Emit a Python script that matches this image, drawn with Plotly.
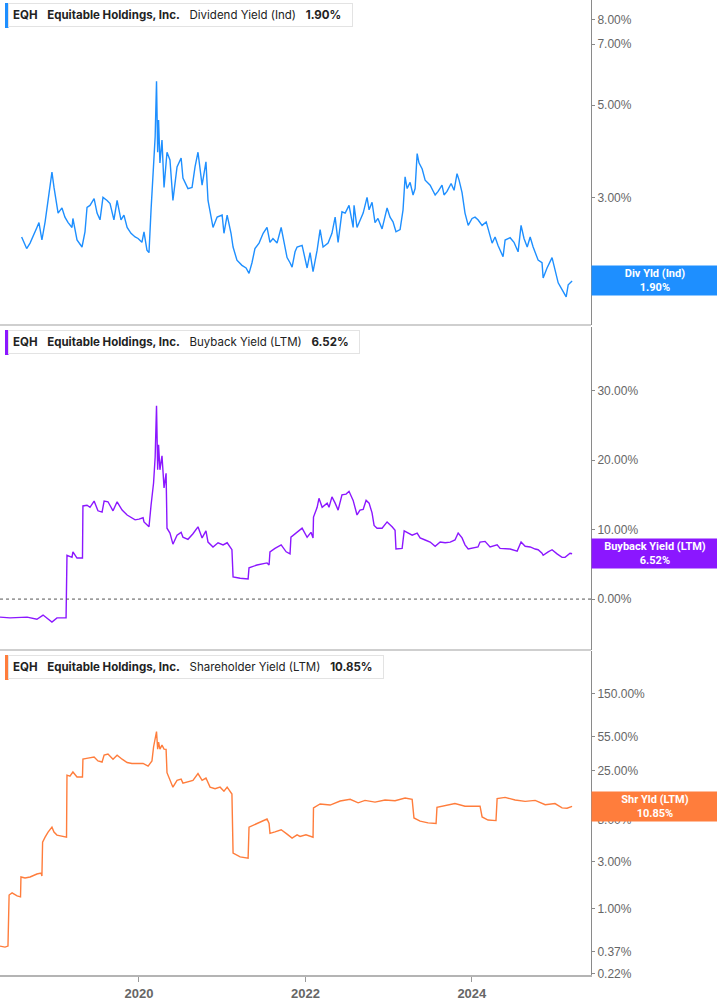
import numpy as np
import plotly.graph_objects as go
from plotly.subplots import make_subplots

TICKER = 'EQH'
COMPANY = 'Equitable Holdings, Inc.'

# Dividend Yield (Ind), %
div_dates = [
    '2018-08-04', '2018-08-26', '2018-09-10', '2018-09-23', '2018-10-10', '2018-10-19', '2018-11-01',
    '2018-11-15', '2018-11-28', '2018-12-15', '2018-12-24', '2019-01-06', '2019-01-11', '2019-01-28',
    '2019-02-10', '2019-02-24', '2019-03-13', '2019-03-17', '2019-04-04', '2019-04-26', '2019-05-09',
    '2019-05-18', '2019-05-31', '2019-06-18', '2019-07-01', '2019-07-14', '2019-07-27', '2019-08-14',
    '2019-08-27', '2019-09-13', '2019-09-27', '2019-10-14', '2019-10-27', '2019-11-10', '2019-11-27',
    '2019-12-15', '2019-12-28', '2020-01-14', '2020-01-23', '2020-02-05', '2020-02-14', '2020-02-23',
    '2020-03-05', '2020-03-12', '2020-03-18', '2020-03-23', '2020-03-27', '2020-04-02', '2020-04-11',
    '2020-04-20', '2020-05-03', '2020-05-16', '2020-05-29', '2020-06-16', '2020-07-04', '2020-07-12',
    '2020-08-03', '2020-08-21', '2020-09-03', '2020-09-16', '2020-10-04', '2020-10-13', '2020-10-21',
    '2020-10-30', '2020-11-08', '2020-11-21', '2020-12-09', '2020-12-31', '2021-01-08', '2021-01-22',
    '2021-02-08', '2021-02-17', '2021-03-06', '2021-03-28', '2021-04-15', '2021-04-28', '2021-05-11',
    '2021-05-24', '2021-06-11', '2021-06-29', '2021-07-16', '2021-07-29', '2021-08-11', '2021-08-29',
    '2021-09-16', '2021-09-24', '2021-10-12', '2021-10-25', '2021-11-03', '2021-11-16', '2021-11-25',
    '2021-12-17', '2022-01-08', '2022-01-21', '2022-02-03', '2022-02-21', '2022-03-06', '2022-03-19',
    '2022-04-10', '2022-04-27', '2022-05-11', '2022-05-24', '2022-06-10', '2022-06-24', '2022-07-11',
    '2022-07-29', '2022-08-02', '2022-08-15', '2022-08-28', '2022-09-11', '2022-09-28', '2022-10-07',
    '2022-10-20', '2022-11-02', '2022-11-15', '2022-12-03', '2022-12-25', '2023-01-07', '2023-01-20',
    '2023-02-02', '2023-02-20', '2023-03-05', '2023-03-14', '2023-03-23', '2023-04-05', '2023-04-18',
    '2023-04-27', '2023-05-06', '2023-05-14', '2023-05-28', '2023-06-10', '2023-07-02', '2023-07-24',
    '2023-08-06', '2023-08-23', '2023-09-01', '2023-09-14', '2023-10-02', '2023-10-15', '2023-10-28',
    '2023-11-06', '2023-11-19', '2023-12-02', '2023-12-16', '2024-01-02', '2024-01-15', '2024-01-28',
    '2024-02-15', '2024-03-04', '2024-03-17', '2024-03-30', '2024-04-12', '2024-04-25', '2024-05-17',
    '2024-05-26', '2024-06-17', '2024-07-04', '2024-07-22', '2024-08-04', '2024-08-17', '2024-08-31',
    '2024-09-13', '2024-09-26', '2024-10-18', '2024-11-04', '2024-11-09', '2024-11-26', '2024-12-18',
    '2024-12-31', '2025-01-14', '2025-01-31', '2025-02-18', '2025-02-27', '2025-03-16',
]
div_values = [
    2.42, 2.27, 2.34, 2.42, 2.55, 2.62, 2.38,
    2.63, 2.96, 3.46, 3.18, 2.85, 2.76, 2.84,
    2.70, 2.62, 2.55, 2.68, 2.38, 2.29, 2.49,
    2.85, 2.88, 2.99, 2.76, 2.66, 3.01, 2.96,
    2.91, 2.66, 2.96, 2.66, 2.73, 2.55, 2.47,
    2.42, 2.40, 2.35, 2.49, 2.25, 2.22, 2.81,
    3.56, 4.20, 5.71, 3.86, 4.61, 3.64, 4.13,
    3.18, 3.86, 3.70, 2.96, 3.56, 3.74, 3.35,
    3.16, 3.18, 3.56, 3.86, 3.22, 3.43, 3.66,
    2.96, 2.78, 2.55, 2.70, 2.73, 2.47, 2.73,
    2.47, 2.29, 2.13, 2.07, 2.04, 1.98, 2.10,
    2.27, 2.34, 2.47, 2.55, 2.35, 2.40, 2.34,
    2.55, 2.41, 2.16, 2.10, 2.05, 2.23, 2.29,
    2.31, 2.04, 2.22, 2.00, 2.25, 2.52, 2.29,
    2.34, 2.47, 2.70, 2.35, 2.78, 2.76, 2.88,
    2.55, 2.88, 2.55, 2.66, 2.76, 3.01, 2.81,
    2.93, 2.62, 2.68, 2.53, 2.84, 2.70, 2.63,
    2.49, 2.52, 2.81, 3.37, 3.16, 3.27, 3.05,
    3.16, 3.83, 3.64, 3.52, 3.31, 3.22, 3.05,
    3.11, 3.22, 3.05, 3.11, 3.25, 3.13, 3.43,
    3.31, 3.09, 2.76, 2.58, 2.68, 2.70, 2.66,
    2.58, 2.63, 2.47, 2.34, 2.42, 2.31, 2.17,
    2.38, 2.41, 2.35, 2.23, 2.58, 2.40, 2.29,
    2.42, 2.29, 2.13, 2.10, 1.93, 2.04, 2.16,
    2.02, 1.88, 1.81, 1.74, 1.86, 1.90,
]

# Buyback Yield (LTM), %
bb_dates = [
    '2018-05-01', '2018-06-14', '2018-08-28', '2018-10-10', '2018-11-06', '2018-11-23', '2018-12-15',
    '2019-01-06', '2019-02-15', '2019-02-19', '2019-03-13', '2019-03-17', '2019-04-04', '2019-04-28',
    '2019-04-30', '2019-05-18', '2019-05-31', '2019-06-18', '2019-07-05', '2019-07-23', '2019-08-01',
    '2019-08-18', '2019-09-09', '2019-09-27', '2019-10-19', '2019-11-10', '2019-11-27', '2019-12-15',
    '2020-01-01', '2020-01-19', '2020-01-23', '2020-02-14', '2020-02-23', '2020-03-05', '2020-03-12',
    '2020-03-18', '2020-03-23', '2020-03-27', '2020-04-02', '2020-04-11', '2020-04-15', '2020-04-20',
    '2020-04-29', '2020-05-03', '2020-05-16', '2020-05-29', '2020-06-16', '2020-07-04', '2020-07-12',
    '2020-08-03', '2020-08-25', '2020-09-16', '2020-10-04', '2020-10-21', '2020-10-30', '2020-11-21',
    '2020-12-13', '2021-01-04', '2021-01-22', '2021-02-12', '2021-02-17', '2021-03-20', '2021-04-24',
    '2021-04-28', '2021-06-02', '2021-07-16', '2021-07-25', '2021-07-29', '2021-08-20', '2021-09-16',
    '2021-10-08', '2021-10-25', '2021-10-29', '2021-11-25', '2021-12-17', '2022-01-08', '2022-01-25',
    '2022-02-03', '2022-02-05', '2022-02-21', '2022-03-01', '2022-03-15', '2022-04-06', '2022-04-14',
    '2022-04-27', '2022-05-11', '2022-05-24', '2022-06-10', '2022-06-28', '2022-07-11', '2022-07-29',
    '2022-08-15', '2022-08-28', '2022-09-11', '2022-09-24', '2022-10-07', '2022-10-20', '2022-10-29',
    '2022-11-11', '2022-12-03', '2022-12-25', '2023-01-16', '2023-01-29', '2023-02-02', '2023-03-01',
    '2023-03-10', '2023-03-27', '2023-04-14', '2023-05-06', '2023-05-19', '2023-06-10', '2023-07-02',
    '2023-07-24', '2023-08-15', '2023-09-06', '2023-09-28', '2023-10-19', '2023-11-02', '2023-11-19',
    '2023-12-02', '2023-12-16', '2024-01-06', '2024-01-28', '2024-02-06', '2024-02-28', '2024-03-21',
    '2024-04-21', '2024-05-04', '2024-05-26', '2024-06-17', '2024-07-18', '2024-08-04', '2024-08-22',
    '2024-09-13', '2024-10-05', '2024-10-18', '2024-11-04', '2024-11-09', '2024-12-01', '2024-12-18',
    '2025-01-09', '2025-01-31', '2025-02-13', '2025-02-22', '2025-03-07', '2025-03-16',
]
bb_values = [
    -2.6, -2.7, -2.6, -2.9, -2.3, -2.7, -3.3,
    -2.7, -2.7, 6.3, 6.0, 6.8, 5.9, 5.9,
    13.4, 13.5, 13.2, 14.1, 12.7, 12.5, 14.1,
    14.0, 12.7, 14.0, 12.8, 12.1, 11.7, 11.4,
    11.5, 11.7, 11.1, 10.4, 13.5, 16.7, 20.4,
    27.8, 18.6, 22.2, 18.6, 20.6, 18.6, 16.0,
    18.1, 10.2, 9.5, 7.9, 9.2, 9.6, 8.9,
    8.6, 9.4, 10.4, 8.8, 9.8, 8.2, 7.5,
    8.1, 7.8, 8.1, 7.1, 3.2, 3.0, 2.9,
    4.5, 4.9, 5.2, 4.9, 6.8, 7.3, 7.8,
    6.8, 6.5, 8.9, 9.6, 10.2, 8.9, 9.6,
    8.8, 11.8, 13.2, 14.5, 13.2, 13.8, 13.2,
    14.7, 13.8, 12.8, 15.0, 15.1, 15.5, 14.2,
    12.1, 12.8, 12.9, 14.2, 13.8, 12.4, 10.6,
    10.2, 10.2, 11.1, 10.4, 9.9, 7.2, 7.3,
    9.8, 9.5, 9.2, 9.5, 8.8, 8.5, 8.2,
    7.6, 8.2, 8.1, 8.2, 8.5, 9.5, 8.8,
    7.8, 7.2, 7.3, 7.5, 8.2, 8.3, 7.5,
    7.8, 7.3, 7.3, 7.2, 6.9, 8.2, 7.6,
    7.5, 7.2, 7.1, 6.6, 6.3, 6.8, 7.1,
    6.5, 6.0, 6.0, 6.3, 6.6, 6.52,
]

# Shareholder Yield (LTM), %
shy_dates = [
    '2018-05-01', '2018-05-23', '2018-06-05', '2018-06-10', '2018-06-23', '2018-07-15', '2018-07-30',
    '2018-08-01', '2018-08-19', '2018-09-10', '2018-10-10', '2018-10-28', '2018-11-01', '2018-11-04',
    '2018-11-15', '2018-11-28', '2018-12-15', '2018-12-24', '2019-01-06', '2019-02-02', '2019-02-17',
    '2019-02-19', '2019-03-04', '2019-03-17', '2019-04-04', '2019-04-28', '2019-04-30', '2019-05-22',
    '2019-06-18', '2019-07-05', '2019-07-23', '2019-08-01', '2019-08-18', '2019-09-09', '2019-09-27',
    '2019-10-19', '2019-11-10', '2019-12-01', '2019-12-28', '2020-01-19', '2020-02-10', '2020-02-27',
    '2020-03-05', '2020-03-18', '2020-03-23', '2020-03-27', '2020-04-02', '2020-04-11', '2020-04-20',
    '2020-04-29', '2020-05-03', '2020-05-16', '2020-05-29', '2020-06-16', '2020-07-04', '2020-07-12',
    '2020-08-03', '2020-08-25', '2020-09-16', '2020-10-04', '2020-10-21', '2020-11-08', '2020-11-30',
    '2020-12-22', '2021-01-08', '2021-01-22', '2021-02-12', '2021-02-17', '2021-03-20', '2021-04-24',
    '2021-04-28', '2021-06-02', '2021-06-29', '2021-07-16', '2021-07-25', '2021-07-29', '2021-08-20',
    '2021-09-16', '2021-10-12', '2021-11-03', '2021-11-25', '2021-12-08', '2022-01-03', '2022-02-03',
    '2022-02-05', '2022-03-06', '2022-04-19', '2022-06-02', '2022-07-16', '2022-08-20', '2022-09-19',
    '2022-11-02', '2022-12-16', '2023-01-29', '2023-03-14', '2023-04-14', '2023-04-22', '2023-05-19',
    '2023-06-23', '2023-07-28', '2023-08-01', '2023-09-06', '2023-10-19', '2023-12-02', '2024-01-15',
    '2024-02-06', '2024-02-15', '2024-03-12', '2024-04-16', '2024-04-21', '2024-05-26', '2024-07-09',
    '2024-08-22', '2024-10-05', '2024-11-18', '2024-12-31', '2025-01-31', '2025-02-22', '2025-03-16',
]
shy_values = [
    0.42, 0.41, 0.42, 1.38, 1.45, 1.35, 1.32,
    2.10, 2.05, 2.10, 2.25, 2.30, 2.15, 4.73,
    5.30, 5.97, 6.70, 5.97, 5.57, 5.44, 5.30,
    22.5, 22.0, 24.2, 21.5, 21.5, 32.6, 33.4,
    34.3, 31.3, 30.5, 35.8, 36.8, 32.6, 35.8,
    32.6, 30.2, 29.5, 29.5, 29.5, 27.7, 31.3,
    43.3, 62.0, 41.2, 48.5, 41.2, 45.2, 41.2,
    41.0, 23.8, 20.5, 17.0, 19.9, 20.5, 18.7,
    19.3, 19.9, 23.3, 19.9, 21.0, 17.0, 16.4,
    17.0, 15.5, 17.0, 14.5, 3.67, 3.35, 3.26,
    6.70, 7.3, 7.9, 8.1, 7.3, 5.8, 6.0,
    6.3, 5.7, 5.2, 5.6, 5.4, 5.6, 5.3,
    10.5, 11.5, 11.2, 12.3, 12.8, 11.8, 12.5,
    12.0, 12.6, 12.4, 13.2, 12.8, 8.3, 7.7,
    7.4, 7.3, 10.6, 11.0, 11.6, 10.9, 10.8,
    10.9, 8.5, 7.9, 7.8, 13.0, 13.4, 12.6,
    12.2, 12.5, 11.3, 11.6, 10.5, 10.4, 10.85,
]

div_ticks = [2, 3, 5, 7, 8]
bb_ticks = [0, 10, 20, 30]
shy_ticks = [0.22, 0.37, 1, 3, 8, 25, 55, 150, 405]

DIV_COLOR = '#1e8fff'
BB_COLOR = '#8b17ff'
SHY_COLOR = '#ff7d3c'

TICK_FONT = dict(family='Liberation Sans, Arial', size=12, color='#666666')
LABEL_FONT = 'Inter, Noto Sans, sans-serif'
NB = '\u00a0' * 3


def legend_text(metric: str, value: float) -> str:
    return (f'<b>{TICKER}</b>{NB}<b>{COMPANY}</b>{NB}{metric}{NB}'
            f'<b>{value:.2f}%</b>\u00a0\u00a0')


fig = make_subplots(rows=3, cols=1, shared_xaxes=True, vertical_spacing=0.002)

fig.add_trace(go.Scatter(x=div_dates, y=div_values, mode='lines',
                         line=dict(color=DIV_COLOR, width=1.4)), row=1, col=1)
fig.add_trace(go.Scatter(x=bb_dates, y=bb_values, mode='lines',
                         line=dict(color=BB_COLOR, width=1.4)), row=2, col=1)
fig.add_trace(go.Scatter(x=shy_dates, y=shy_values, mode='lines',
                         line=dict(color=SHY_COLOR, width=1.4)), row=3, col=1)

yaxis_common = dict(side='right', showline=True, linecolor='#8a8a8a', linewidth=1,
                    ticks='outside', ticklen=3, tickcolor='#8a8a8a',
                    showgrid=False, zeroline=False, tickfont=TICK_FONT,
                    fixedrange=True)

fig.update_layout(
    yaxis=dict(type='log', domain=[0.6667, 1.0], range=[0.1733, 0.9508],
               tickvals=div_ticks, ticktext=[f'{v:.2f}%' for v in div_ticks],
               **yaxis_common),
    yaxis2=dict(domain=[0.3333, 0.6646], range=[-7.33, 39.14],
                tickvals=bb_ticks, ticktext=[f'{v:.2f}%' for v in bb_ticks],
                **yaxis_common),
    yaxis3=dict(type='log', domain=[0.0, 0.3323], range=[-0.669, 2.607],
                tickvals=shy_ticks, ticktext=[f'{v:.2f}%' for v in shy_ticks],
                **yaxis_common),
)

x_range = ['2018-05-01', '2025-06-07']
for ax in ['xaxis', 'xaxis2']:
    fig.layout[ax].update(range=x_range, showticklabels=False, showgrid=False,
                          showline=False, zeroline=False, ticks='')
fig.update_layout(xaxis3=dict(
    range=x_range, showgrid=False, zeroline=False, showline=True,
    linecolor='#b4b4b4', linewidth=2, ticks='outside', ticklen=5,
    tickcolor='#9a9a9a', dtick='M24', tick0='2020-01-01', tickformat='%Y',
    tickfont=dict(family='Liberation Sans, Arial', size=13, color='#666666',
                  weight='bold'),
))

# panel separators and zero line
for ypos in [0.6667, 0.3333]:
    fig.add_shape(type='line', xref='paper', yref='paper', x0=0, x1=1,
                  y0=ypos, y1=ypos, line=dict(color='#cfcfcf', width=2))
fig.add_shape(type='line', xref='x2 domain', yref='y2', x0=0, x1=1, y0=0, y1=0,
              line=dict(color='#555555', width=1, dash='dot'))

# legend boxes, with the coloured bar on their left edge
panels = [
    ('y', 'x', 'Dividend Yield (Ind)', div_values[-1], DIV_COLOR, -3),
    ('y2', 'x2', 'Buyback Yield (LTM)', bb_values[-1], BB_COLOR, -3),
    ('y3', 'x3', 'Shareholder Yield (LTM)', shy_values[-1], SHY_COLOR, -4),
]
for yref, xref, metric, last, color, shift in panels:
    fig.add_annotation(
        text=legend_text(metric, last), xref=f'{xref} domain', yref=f'{yref} domain',
        x=0, y=1, xanchor='left', yanchor='top', xshift=8, yshift=shift,
        showarrow=False, bgcolor='white', bordercolor='#e3e3e3', borderwidth=1,
        borderpad=4, font=dict(family=LABEL_FONT, size=11.5, color='#222222'),
    )
    fig.add_shape(type='rect', xref=f'{xref} domain', yref=f'{yref} domain',
                  xsizemode='pixel', ysizemode='pixel', xanchor=0, yanchor=1,
                  x0=5, x1=8.5, y0=shift, y1=shift - 25,
                  fillcolor=color, line=dict(width=0))

# value badges on the right axis
badges = [
    ('y', 'Div Yld (Ind)', np.log10(div_values[-1]), div_values[-1], DIV_COLOR),
    ('y2', 'Buyback Yield (LTM)', bb_values[-1], bb_values[-1], BB_COLOR),
    ('y3', 'Shr Yld (LTM)', np.log10(shy_values[-1]), shy_values[-1], SHY_COLOR),
]
for yref, label, ypos, last, color in badges:
    fig.add_annotation(
        text=f'<b>{label}<br>{last:.2f}%</b>', xref='paper', yref=yref,
        x=1, y=ypos, xanchor='left', yanchor='middle', showarrow=False,
        width=124, height=27, align='center', bgcolor=color, borderpad=1,
        font=dict(family='Roboto, Inter, sans-serif', size=11, color='white'),
    )

fig.update_layout(
    width=717, height=1005,
    margin=dict(l=0, r=126, t=0, b=30),
    paper_bgcolor='white', plot_bgcolor='white',
    showlegend=False,
)

fig.write_html('out.html', config={'displayModeBar': False},
               post_script="document.body.style.margin = '0';")
